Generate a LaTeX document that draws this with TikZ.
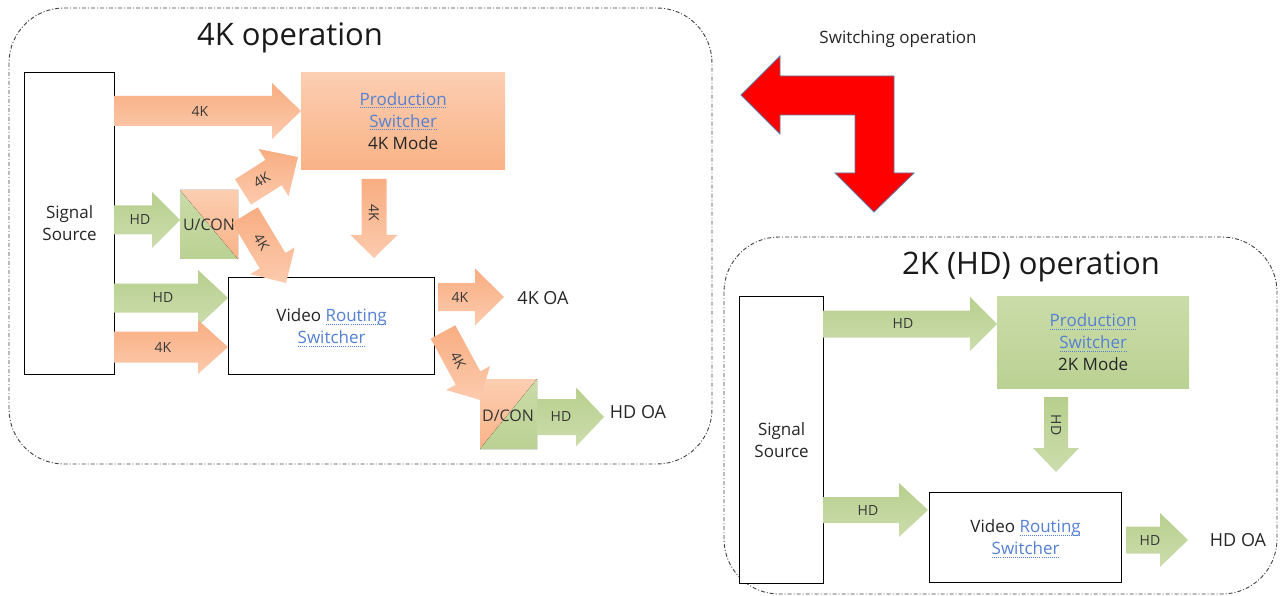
\documentclass[tikz,border=0pt]{standalone}
\usepackage{fontspec}
\setmainfont{Open Sans}
\usetikzlibrary{calc}

\definecolor{orBoxA}{HTML}{FCCEB2}
\definecolor{orBoxB}{HTML}{F9B386}
\definecolor{grBoxA}{HTML}{CADCA8}
\definecolor{grBoxB}{HTML}{BBD193}
\definecolor{orArrA}{HTML}{F8AD81}
\definecolor{orArrB}{HTML}{FCCBAE}
\definecolor{grArrA}{HTML}{B7CF8D}
\definecolor{grArrB}{HTML}{CCDDAD}
\definecolor{linkblue}{HTML}{5581D4}
\definecolor{framegray}{HTML}{404040}
\definecolor{redrim}{HTML}{5C7CA4}

\tikzset{
  x=1pt, y=-1pt,
  orangefill/.style={top color=orArrA, bottom color=orArrB},
  greenfill/.style={top color=grArrA, bottom color=grArrB},
  orangebox/.style={top color=orBoxA, bottom color=orBoxB},
  greenbox/.style={top color=grBoxA, bottom color=grBoxB},
  opframe/.style={draw=framegray, line width=0.9pt,
    dash pattern=on 4pt off 2pt on 1pt off 2pt, rounded corners=55pt},
  plainbox/.style={draw=black, line width=1.2pt, fill=white, inner sep=0pt},
  shadebox/.style={inner sep=0pt},
  boxtext/.style={font=\fontsize{17}{22}\selectfont, align=center, text=black!85},
  arrowtext/.style={font=\fontsize{14}{16}\selectfont, text=black!78, inner sep=0pt},
  convtext/.style={font=\fontsize{16}{18}\selectfont, text=black!80, inner sep=0pt},
  outtext/.style={font=\fontsize{18}{20}\selectfont, text=black!85, inner sep=0pt},
  titletext/.style={font=\fontsize{31}{36}\selectfont, text=black!90, inner sep=0pt},
}

% blue link-style word with a dotted underline
\newcommand\link[1]{{\color{linkblue}\setbox0\hbox{#1}%
  \hbox{\rlap{\raisebox{-3pt}[0pt][0pt]{\hbox to\wd0{\xleaders\hbox to 2pt{\hss\rule{1pt}{0.8pt}\hss}\hfill}}}\box0}}}

% block arrow geometry: body half width, head half width, head length
\newcommand\arrowgeom[3]{\def\aw{#1}\def\aW{#2}\def\ah{#3}}
% #1 label name, #2 fill style, #3 #4 tail, #5 #6 tip, #7 label position, #8 label
\newcommand\barrow[8]{%
  \pgfmathsetmacro\bang{atan2(-(#6-#4),#5-#3)}%
  \pgfmathsetmacro\blen{veclen(#5-#3,#6-#4)}%
  \pgfmathsetmacro\bbase{\blen-\ah}%
  \begin{scope}[shift={(#3,#4)}, rotate=\bang]
    \path[#2] (0,-\aw) -- (\bbase,-\aw) -- (\bbase,-\aW) -- (\blen,0)
      -- (\bbase,\aW) -- (\bbase,\aw) -- (0,\aw) -- cycle;
    \node[arrowtext, transform shape] (#1) at (#7,0) {#8};
  \end{scope}}

\begin{document}
\begin{tikzpicture}
\useasboundingbox (0,0) rectangle (1280,596);

% operation frames
\draw[opframe] (9,8) rectangle (712,464);
\draw[opframe] (724,237) rectangle (1277,594);
\node[titletext, anchor=base] (t4k) at (290,46) {4K operation};
\node[titletext, anchor=base] (t2k) at (1031,274) {2K (HD) operation};

% switching arrow
\node[font=\fontsize{17}{20}\selectfont, text=black!85, anchor=base] (sw) at (898,44) {Switching operation};
\filldraw[fill=red, draw=redrim, line width=0.8pt, line join=miter]
  (741,95) -- (780,56) -- (780,76) -- (894,76) -- (894,173) -- (914,173)
  -- (874,212) -- (835,173) -- (855,173) -- (855,115) -- (780,115)
  -- (780,134) -- cycle;

% ---------------- 4K operation ----------------
\node[plainbox, minimum width=90, minimum height=302, anchor=north west] (src4k) at (24,72) {};
\node[boxtext] at (src4k.center) {Signal\\Source};

\node[shadebox, orangebox, minimum width=204, minimum height=97, anchor=north west] (ps4k) at (301,72) {};
\node[boxtext] at (ps4k.center) {\link{Production}\\\link{Switcher}\\4K Mode};

\node[plainbox, minimum width=206, minimum height=97, anchor=north west] (vrs4k) at (228,277) {};
\node[boxtext] at (vrs4k.center) {Video \link{Routing}\\\link{Switcher}};

% up-converter
\fill[greenbox] (180,190) -- (180,259) -- (238,259) -- cycle;
\fill[orangebox] (180,190) -- (238,190) -- (238,259) -- cycle;
\node[convtext] (ucon) at (209,225) {U/CON};

% down-converter
\fill[orangebox] (480,379) -- (537,379) -- (480,449) -- cycle;
\fill[greenbox] (537,379) -- (537,449) -- (480,449) -- cycle;
\node[convtext] (dcon) at (508,416) {D/CON};

\arrowgeom{15}{28}{29}\barrow{a1}{orangefill}{114}{111}{301}{111}{86}{4K}
\arrowgeom{14.5}{28}{28}\barrow{a2}{greenfill}{114}{220}{180}{220}{26}{HD}
\arrowgeom{15}{28}{29}\barrow{a3}{orangefill}{243}{192}{298}{157}{22}{4K}
\arrowgeom{15}{26}{26}\barrow{a4}{orangefill}{245}{215}{286}{283}{32}{4K}
\arrowgeom{12.5}{23.5}{23}\barrow{a5}{orangefill}{374}{179}{374}{258}{34}{4K}
\arrowgeom{14.5}{28}{30}\barrow{a6}{greenfill}{114}{298}{228}{298}{49}{HD}
\arrowgeom{15.5}{27}{30}\barrow{a7}{orangefill}{114}{347}{228}{347}{49}{4K}
\arrowgeom{14}{28.5}{29}\barrow{a8}{orangefill}{438}{297}{504}{297}{22}{4K}
\arrowgeom{14}{25}{25}\barrow{a9}{orangefill}{443}{332}{480}{400}{32}{4K}
\arrowgeom{18}{29.5}{28}\barrow{a10}{greenfill}{537}{417}{604}{417}{24}{HD}

\node[outtext] (oa4k) at (543,298) {4K OA};
\node[outtext] (oahd) at (638,412) {HD OA};

% ---------------- 2K (HD) operation ----------------
\node[plainbox, minimum width=84, minimum height=287, anchor=north west] (src2k) at (739,296) {};
\node[boxtext] at (src2k.center) {Signal\\Source};

\node[shadebox, greenbox, minimum width=192, minimum height=92, anchor=north west] (ps2k) at (997,296) {};
\node[boxtext] at (ps2k.center) {\link{Production}\\\link{Switcher}\\2K Mode};

\node[plainbox, minimum width=192, minimum height=90, anchor=north west] (vrs2k) at (929,492) {};
\node[boxtext] at (vrs2k.center) {Video \link{Routing}\\\link{Switcher}};

\arrowgeom{13.5}{27}{27}\barrow{b1}{greenfill}{823}{324}{997}{324}{80}{HD}
\arrowgeom{12}{23}{24}\barrow{b2}{greenfill}{1056}{397}{1056}{472}{28}{HD}
\arrowgeom{13}{27}{29}\barrow{b3}{greenfill}{823}{510}{928}{510}{45}{HD}
\arrowgeom{13.5}{27}{28}\barrow{b4}{greenfill}{1126}{540}{1188}{540}{24}{HD}

\node[outtext] (oa2k) at (1238,540) {HD OA};
\end{tikzpicture}
\end{document}
